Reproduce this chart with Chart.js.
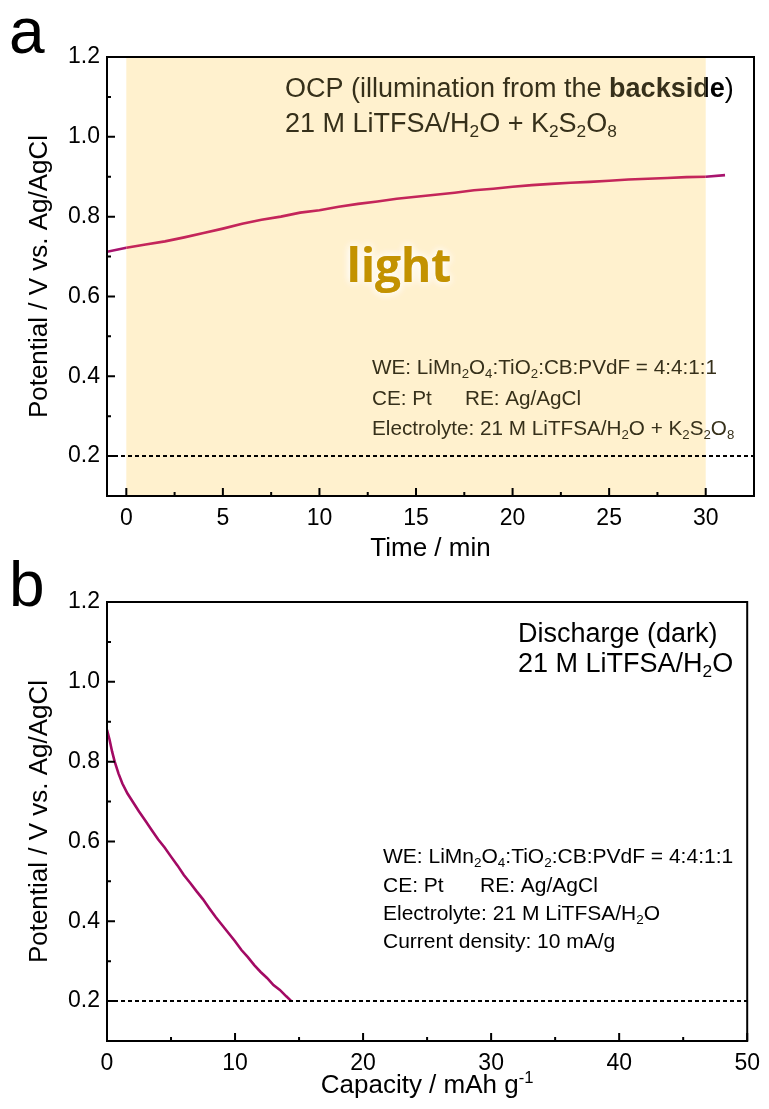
<!DOCTYPE html>
<html>
<head>
<meta charset="utf-8">
<script src="https://cdn.jsdelivr.net/npm/chart.js@4"></script>
<style>
  html, body { margin: 0; padding: 0; background: #fff; }
  #wrap { position: relative; width: 769px; height: 1109px; }
  canvas { position: absolute; left: 0; }
  #ocp { top: 0; }
  #dis { top: 560px; }
</style>
</head>
<body>
<div id="wrap">
  <canvas id="ocp" width="769" height="575"></canvas>
  <canvas id="dis" width="769" height="549"></canvas>
</div>
<script>
// Panel a: open-circuit potential under illumination
const ocpTime = [-1, 0, 1, 2, 3, 4, 5, 6, 7, 8, 9, 10, 11, 12, 13, 14, 15, 16,
                 17, 18, 19, 20, 21, 22, 23, 24, 25, 26, 27, 28, 29, 30, 31];
const ocpPotential = [0.712, 0.722, 0.730, 0.738, 0.748, 0.759, 0.770, 0.782, 0.792, 0.800,
                      0.810, 0.816, 0.825, 0.832, 0.838, 0.845, 0.850, 0.855, 0.860, 0.866,
                      0.870, 0.875, 0.879, 0.882, 0.885, 0.887, 0.890, 0.893, 0.895, 0.897,
                      0.899, 0.900, 0.904];
const lightStart = 0;
const lightEnd = 30;

// Panel b: discharge in the dark
const disCapacity = [0, 0.2, 0.4, 0.6, 0.9, 1.2, 1.6, 2.0, 2.5, 3.0, 3.5, 4.0, 4.5, 5.0,
                     5.5, 6.0, 6.5, 7.0, 7.5, 8.0, 8.5, 9.0, 9.5, 10.0, 10.5, 11.0, 11.5,
                     12.0, 12.5, 13.0, 13.5, 14.0, 14.4];
const disPotential = [0.880, 0.855, 0.825, 0.800, 0.770, 0.745, 0.720, 0.700, 0.675, 0.652,
                      0.628, 0.605, 0.585, 0.562, 0.540, 0.516, 0.496, 0.475, 0.455, 0.432,
                      0.410, 0.390, 0.370, 0.350, 0.328, 0.310, 0.290, 0.273, 0.258, 0.240,
                      0.228, 0.212, 0.200];

const cutoffPotential = 0.2;

// Tick values
const potentialTicks = [0.2, 0.4, 0.6, 0.8, 1.0, 1.2];
const potentialMinor = [0.3, 0.5, 0.7, 0.9, 1.1];
const timeTicks = [0, 5, 10, 15, 20, 25, 30];
const timeMinor = [2.5, 7.5, 12.5, 17.5, 22.5, 27.5];
const capacityTicks = [0, 10, 20, 30, 40, 50];
const capacityMinor = [5, 15, 25, 35, 45];

const FONT = "'Liberation Sans', Arial, sans-serif";
const SHADE = '#FFF1CE';
const INK_SHADED = '#36301a';

// Draws text with _{sub}, ^{sup} and **bold** parts, starting at x
function drawRich(ctx, str, x, y, size, color) {
  const parts = str.split(/(\*\*[^*]+\*\*|_\{[^}]+\}|\^\{[^}]+\})/).filter(p => p);
  ctx.fillStyle = color;
  ctx.textAlign = 'left';
  ctx.textBaseline = 'alphabetic';
  parts.forEach(p => {
    let txt = p, fs = size, dy = 0, weight = '';
    if (p.startsWith('**')) { txt = p.slice(2, -2); weight = 'bold '; }
    else if (p.startsWith('_{')) { txt = p.slice(2, -1); fs = size * 0.64; dy = size * 0.2; }
    else if (p.startsWith('^{')) { txt = p.slice(2, -1); fs = size * 0.64; dy = -size * 0.4; }
    ctx.font = weight + fs + 'px ' + FONT;
    ctx.fillText(txt, x, y + dy);
    x += ctx.measureText(txt).width;
  });
  return x;
}

function richWidth(ctx, str, size) {
  const parts = str.split(/(\*\*[^*]+\*\*|_\{[^}]+\}|\^\{[^}]+\})/).filter(p => p);
  let w = 0;
  parts.forEach(p => {
    let txt = p, fs = size, weight = '';
    if (p.startsWith('**')) { txt = p.slice(2, -2); weight = 'bold '; }
    else if (p.startsWith('_{') || p.startsWith('^{')) { txt = p.slice(2, -1); fs = size * 0.64; }
    ctx.font = weight + fs + 'px ' + FONT;
    w += ctx.measureText(txt).width;
  });
  return w;
}

// Text that is tinted where it sits on the shaded band
function drawSplitText(ctx, str, x, y, size, splitX) {
  ctx.save();
  ctx.beginPath(); ctx.rect(0, 0, splitX, ctx.canvas.height); ctx.clip();
  drawRich(ctx, str, x, y, size, INK_SHADED);
  ctx.restore();
  ctx.save();
  ctx.beginPath(); ctx.rect(splitX, 0, ctx.canvas.width, ctx.canvas.height); ctx.clip();
  drawRich(ctx, str, x, y, size, '#000');
  ctx.restore();
}

// Frame and inward tick marks
const framePlugin = {
  id: 'frame',
  afterDatasetsDraw(chart, args, opts) {
    const { ctx, chartArea: a, scales: { x, y } } = chart;
    ctx.save();
    ctx.strokeStyle = '#000';
    ctx.lineWidth = 2;
    ctx.beginPath();
    opts.xMajor.forEach(v => { const px = x.getPixelForValue(v); ctx.moveTo(px, a.bottom); ctx.lineTo(px, a.bottom - 8); });
    opts.xMinor.forEach(v => { const px = x.getPixelForValue(v); ctx.moveTo(px, a.bottom); ctx.lineTo(px, a.bottom - 4); });
    opts.yMajor.forEach(v => { const py = y.getPixelForValue(v); ctx.moveTo(a.left, py); ctx.lineTo(a.left + 8, py); });
    opts.yMinor.forEach(v => { const py = y.getPixelForValue(v); ctx.moveTo(a.left, py); ctx.lineTo(a.left + 4, py); });
    ctx.stroke();
    ctx.strokeRect(a.left, a.top, a.right - a.left, a.bottom - a.top);
    ctx.restore();
  }
};

// Illuminated interval behind the curve
const shadePlugin = {
  id: 'shade',
  beforeDatasetsDraw(chart, args, opts) {
    if (!opts.enabled) return;
    const { ctx, chartArea: a, scales: { x } } = chart;
    const x0 = x.getPixelForValue(opts.from);
    const x1 = x.getPixelForValue(opts.to);
    ctx.save();
    ctx.fillStyle = SHADE;
    ctx.fillRect(x0, a.top, x1 - x0, a.bottom - a.top);
    ctx.restore();
  }
};

const labelsPlugin = {
  id: 'labels',
  afterDraw(chart, args, opts) {
    const ctx = chart.ctx;
    ctx.save();
    opts.draw(chart, ctx);
    ctx.restore();
  }
};

function yAxis(width) {
  return {
    type: 'linear',
    min: 0.1,
    max: 1.2,
    afterFit: s => { s.width = width; },
    afterBuildTicks: s => { s.ticks = potentialTicks.map(v => ({ value: v })); },
    grid: { display: false, drawTicks: false },
    border: { display: false },
    ticks: {
      padding: 7,
      color: '#000',
      font: { family: FONT, size: 23 },
      callback: v => v.toFixed(1)
    },
    title: {
      display: true,
      text: 'Potential / V vs. Ag/AgCl',
      color: '#000',
      font: { family: FONT, size: 26 },
      padding: { top: 24, bottom: 24 }
    }
  };
}

function xAxis(min, max, ticks, height, title, titlePad) {
  return {
    type: 'linear',
    min: min,
    max: max,
    afterFit: s => { s.height = height; },
    afterBuildTicks: s => { s.ticks = ticks.map(v => ({ value: v })); },
    grid: { display: false, drawTicks: false },
    border: { display: false },
    ticks: {
      padding: 9,
      color: '#000',
      font: { family: FONT, size: 23 },
      callback: v => String(v)
    },
    title: {
      display: !!title,
      text: title || '',
      color: '#000',
      font: { family: FONT, size: 26 },
      padding: { top: titlePad, bottom: titlePad }
    }
  };
}

const common = {
  responsive: false,
  animation: false,
  devicePixelRatio: 1,
  plugins: { legend: { display: false }, tooltip: { enabled: false } },
  elements: { point: { radius: 0 } }
};

// ---- Panel a ----
const ocpLine = ocpTime.map((t, i) => ({ x: t, y: ocpPotential[i] }));
const xMinA = -1, xMaxA = 32.5;

new Chart(document.getElementById('ocp'), {
  type: 'line',
  data: {
    datasets: [
      {
        data: [{ x: xMinA, y: cutoffPotential }, { x: xMaxA, y: cutoffPotential }],
        borderColor: '#000',
        borderWidth: 2,
        borderDash: [4, 3]
      },
      {
        data: ocpLine,
        borderWidth: 2.6,
        borderColor: '#A8146E',
        segment: {
          borderColor: c => (c.p0.parsed.x >= lightStart && c.p1.parsed.x <= lightEnd) ? '#C4265A' : '#A8146E'
        }
      }
    ]
  },
  options: {
    ...common,
    layout: { padding: { top: 57, right: 15, left: 0, bottom: 0 } },
    scales: {
      x: xAxis(xMinA, xMaxA, timeTicks, 79, 'Time / min', 11),
      y: yAxis(107)
    },
    plugins: {
      ...common.plugins,
      shade: { enabled: true, from: lightStart, to: lightEnd },
      frame: { xMajor: timeTicks, xMinor: timeMinor, yMajor: potentialTicks, yMinor: potentialMinor },
      labels: {
        draw(chart, ctx) {
          const splitX = chart.scales.x.getPixelForValue(lightEnd);
          ctx.fillStyle = '#000';
          ctx.font = '64px ' + FONT;
          ctx.textAlign = 'left';
          ctx.fillText('a', 9, 53);

          drawSplitText(ctx, 'OCP (illumination from the **backside**)', 285, 97, 27, splitX);
          drawSplitText(ctx, '21 M LiTFSA/H_{2}O + K_{2}S_{2}O_{8}', 285, 132, 27, splitX);

          drawRich(ctx, 'WE: LiMn_{2}O_{4}:TiO_{2}:CB:PVdF = 4:4:1:1', 372, 374, 20.7, INK_SHADED);
          drawRich(ctx, 'CE: Pt', 372, 405, 20.7, INK_SHADED);
          drawRich(ctx, 'RE: Ag/AgCl', 465, 405, 20.7, INK_SHADED);
          drawRich(ctx, 'Electrolyte: 21 M LiTFSA/H_{2}O + K_{2}S_{2}O_{8}', 372, 435, 20.7, INK_SHADED);

          ctx.font = 'bold 46px "Open Sans", ' + FONT;
          ctx.textAlign = 'center';
          ctx.textBaseline = 'alphabetic';
          ctx.shadowColor = 'rgba(255,255,255,1)';
          ctx.shadowBlur = 8;
          ctx.fillStyle = '#C39200';
          ctx.fillText('light', 399, 282);
          ctx.fillText('light', 399, 282);
        }
      }
    }
  },
  plugins: [shadePlugin, framePlugin, labelsPlugin]
});

// ---- Panel b ----
const disLine = disCapacity.map((c, i) => ({ x: c, y: disPotential[i] }));
const xMinB = 0, xMaxB = 50;

new Chart(document.getElementById('dis'), {
  type: 'line',
  data: {
    datasets: [
      {
        data: [{ x: xMinB, y: cutoffPotential }, { x: xMaxB, y: cutoffPotential }],
        borderColor: '#000',
        borderWidth: 2,
        borderDash: [4, 3]
      },
      {
        data: disLine,
        borderWidth: 2.6,
        borderColor: '#A30A64'
      }
    ]
  },
  options: {
    ...common,
    layout: { padding: { top: 42, right: 14, left: 0, bottom: 0 } },
    scales: {
      x: xAxis(xMinB, xMaxB, capacityTicks, 68, null, 0),
      y: yAxis(107)
    },
    plugins: {
      ...common.plugins,
      shade: { enabled: false },
      frame: { xMajor: capacityTicks, xMinor: capacityMinor, yMajor: potentialTicks, yMinor: potentialMinor },
      labels: {
        draw(chart, ctx) {
          const a = chart.chartArea;
          ctx.fillStyle = '#000';
          ctx.font = '64px ' + FONT;
          ctx.textAlign = 'left';
          ctx.fillText('b', 9, 46);

          // axis title with superscript
          const t = 'Capacity / mAh g^{-1}';
          const w = richWidth(ctx, t, 26);
          drawRich(ctx, t, (a.left + a.right) / 2 - w / 2, 533, 26, '#000');

          drawRich(ctx, 'Discharge (dark)', 518, 82, 27, '#000');
          drawRich(ctx, '21 M LiTFSA/H_{2}O', 518, 112, 27, '#000');

          drawRich(ctx, 'WE: LiMn_{2}O_{4}:TiO_{2}:CB:PVdF = 4:4:1:1', 383, 303, 21, '#000');
          drawRich(ctx, 'CE: Pt', 383, 332, 21, '#000');
          drawRich(ctx, 'RE: Ag/AgCl', 480, 332, 21, '#000');
          drawRich(ctx, 'Electrolyte: 21 M LiTFSA/H_{2}O', 383, 360, 21, '#000');
          drawRich(ctx, 'Current density: 10 mA/g', 383, 388, 21, '#000');
        }
      }
    }
  },
  plugins: [framePlugin, labelsPlugin]
});
</script>
</body>
</html>
